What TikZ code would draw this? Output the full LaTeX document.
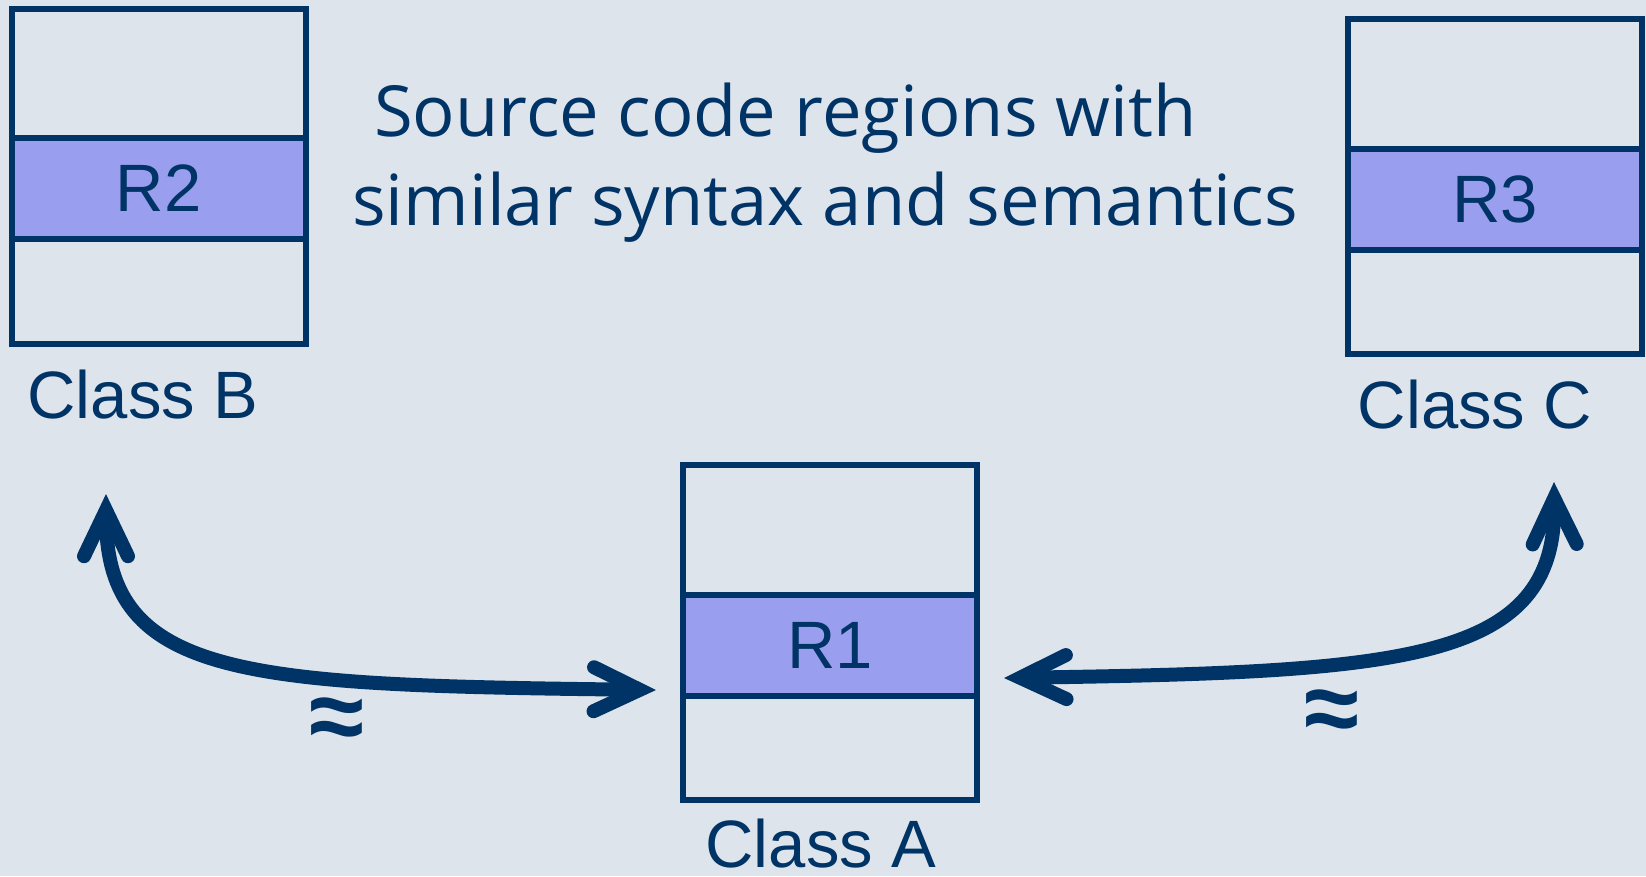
\documentclass[tikz,border=0pt]{standalone}
\usepackage{fontspec}
\setmainfont{Liberation Sans}
\newfontfamily\titlefont{Open Sans}
\usepackage{xcolor}
\usetikzlibrary{arrows.meta}
\definecolor{navy}{RGB}{0,51,102}
\definecolor{regionfill}{RGB}{154,158,238}
\definecolor{paper}{RGB}{222,228,235}

\begin{document}
\begin{tikzpicture}[
  x=1pt, y=-1pt,
  classbox/.style={draw=navy, line width=6pt, inner sep=0pt,
    minimum width=294pt, minimum height=335pt},
  region/.style={draw=navy, fill=regionfill, line width=6pt, inner sep=0pt,
    minimum width=294pt, minimum height=101pt, text=navy,
    font=\fontsize{67}{80}\selectfont},
  classlabel/.style={text=navy, anchor=base, inner sep=0pt,
    font=\fontsize{67}{80}\selectfont},
  heading/.style={text=navy, anchor=base west, inner sep=0pt,
    font=\titlefont\fontsize{70.5}{89}\selectfont},
  approx/.style={text=navy, inner sep=0pt,
    font=\bfseries\fontsize{100}{110}\selectfont},
  barb/.tip={Straight Barb[length=46pt, width=44pt,
    line cap=round, line join=miter]},
  link/.style={barb-barb, draw=navy, line width=14pt}
]
\fill[paper] (0,0) rectangle (1646,876);
\useasboundingbox (0,0) rectangle (1646,876);

% the three classes
\node[classbox] (classB) at (158.5,176.5) {};
\node[region] (R2) at (158.5,188.5) {R2};
\node[classlabel] (labelB) at (143,418) {Class B};

\node[classbox] (classC) at (1495,186.5) {};
\node[region] (R3) at (1495,199.5) {R3};
\node[classlabel] (labelC) at (1475,428) {Class C};

\node[classbox] (classA) at (830,632.5) {};
\node[region] (R1) at (830,645.5) {R1};
\node[classlabel] (labelA) at (821,867) {Class A};

\node[heading] (title1) at (374,136) {Source code regions with};
\node[heading] (title2) at (352,225) {similar syntax and semantics};

% clone relations
\coordinate (endB) at (106,494);
\coordinate (endA1) at (656,690);
\coordinate (endA2) at (1004,678);
\coordinate (endC) at (1554,482);
\draw[link] (endB) .. controls +(0,186) and +(-406,-5) .. (endA1);
\draw[link] (endA2) .. controls +(400,-6) and +(2,180) .. (endC);
\node[approx] (simBA) at (337,724) {≈};
\node[approx] (simAC) at (1332,716) {≈};
\end{tikzpicture}
\end{document}
